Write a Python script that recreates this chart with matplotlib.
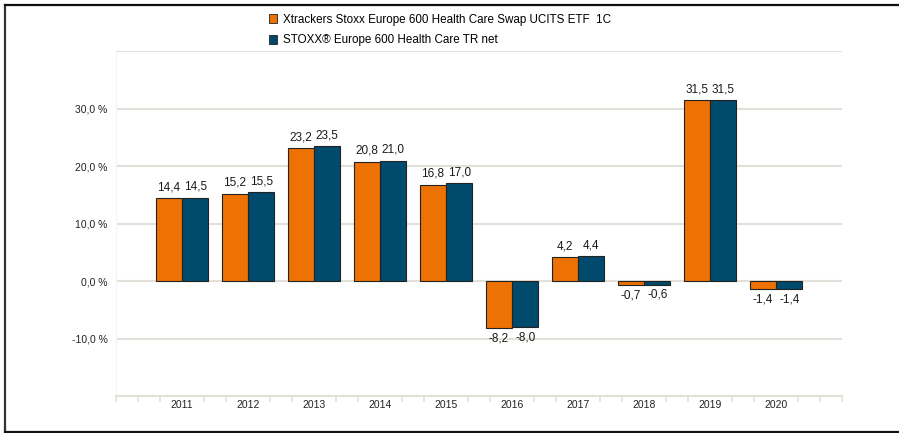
import matplotlib.pyplot as plt
import numpy as np
from matplotlib.lines import Line2D
from matplotlib.patches import Patch

plt.rcParams["font.family"] = ["Liberation Sans", "DejaVu Sans"]

years = ["2011", "2012", "2013", "2014", "2015", "2016", "2017", "2018", "2019", "2020"]
etf = [14.4, 15.2, 23.2, 20.8, 16.8, -8.2, 4.2, -0.7, 31.5, -1.4]
index = [14.5, 15.5, 23.5, 21.0, 17.0, -8.0, 4.4, -0.6, 31.5, -1.4]
series_names = [
    "Xtrackers Stoxx Europe 600 Health Care Swap UCITS ETF  1C",
    "STOXX® Europe 600 Health Care TR net",
]
y_ticks = [-10, 0, 10, 20, 30]

ORANGE = "#EE7203"
BLUE = "#004A6D"
GRID = "#E3E0D9"


def fmt(v):
    return f"{v:.1f}".replace(".", ",")


fig = plt.figure(figsize=(8.99, 4.33), dpi=100)
ax = fig.add_axes([116 / 899, 1 - 396 / 433, (842 - 116) / 899, (396 - 51.4) / 433])

x = np.arange(len(years))
w = 0.4
bars1 = ax.bar(x - w / 2, etf, w, color=ORANGE, edgecolor="#222222", linewidth=0.8, zorder=3)
bars2 = ax.bar(x + w / 2, index, w, color=BLUE, edgecolor="#222222", linewidth=0.8, zorder=3)

for bars, vals in ((bars1, etf), (bars2, index)):
    for b, v in zip(bars, vals):
        xc = b.get_x() + b.get_width() / 2
        if v >= 0:
            ax.annotate(fmt(v), (xc, v), xytext=(0, 3.5), textcoords="offset points",
                        ha="center", va="bottom", fontsize=8.5, color="#1a1a1a")
        else:
            ax.annotate(fmt(v), (xc, v), xytext=(0, -3), textcoords="offset points",
                        ha="center", va="top", fontsize=8.5, color="#1a1a1a")

ax.set_xlim(-1, 10)
ax.set_ylim(-20, 40)

# gridlines
for gy in [-10, 0, 10, 20, 30, 40]:
    ax.axhline(gy, color=GRID, linewidth=1.5, zorder=1)

ax.set_yticks(y_ticks)
ax.set_yticklabels([f"{fmt(t)} %" for t in y_ticks])
ax.tick_params(axis="y", length=0, labelsize=7.5, colors="#222222", pad=6)

ax.set_xticks(x)
ax.set_xticklabels(years)
ax.tick_params(axis="x", length=0, labelsize=7.5, colors="#222222", pad=3)
minor = [-1.0]
for bnd in np.arange(-0.5, 10, 1.0):
    minor += [bnd - 0.17, bnd + 0.17]
minor.append(10.0)
ax.set_xticks(minor, minor=True)
ax.tick_params(axis="x", which="minor", length=4, width=1.2, color=GRID, direction="out")

for s in ["top", "right"]:
    ax.spines[s].set_visible(False)
ax.spines["left"].set_color("#F4F4F4")
ax.spines["left"].set_linewidth(0.8)
ax.spines["bottom"].set_color(GRID)
ax.spines["bottom"].set_linewidth(1.5)

handles = [
    Patch(facecolor=ORANGE, edgecolor="#222222", linewidth=0.6),
    Patch(facecolor=BLUE, edgecolor="#222222", linewidth=0.6),
]
fig.legend(handles, series_names, loc="upper left", bbox_to_anchor=(264 / 899, 1 - 9 / 433),
           frameon=False, fontsize=8.4, handlelength=0.75, handleheight=0.75,
           handletextpad=0.5, labelspacing=0.75, borderaxespad=0)

# outer frame
W, H = 899, 433
fig.add_artist(Line2D([5 / W, 5 / W], [1 - 5 / H, 1 - 431.5 / H], color="#333333", linewidth=1.6))
fig.add_artist(Line2D([5 / W, 1], [1 - 5 / H, 1 - 5 / H], color="#111111", linewidth=1.6))
fig.add_artist(Line2D([5 / W, 1], [1 - 431.5 / H, 1 - 431.5 / H], color="#111111", linewidth=1.6))

fig.savefig("out.png", dpi=100)
